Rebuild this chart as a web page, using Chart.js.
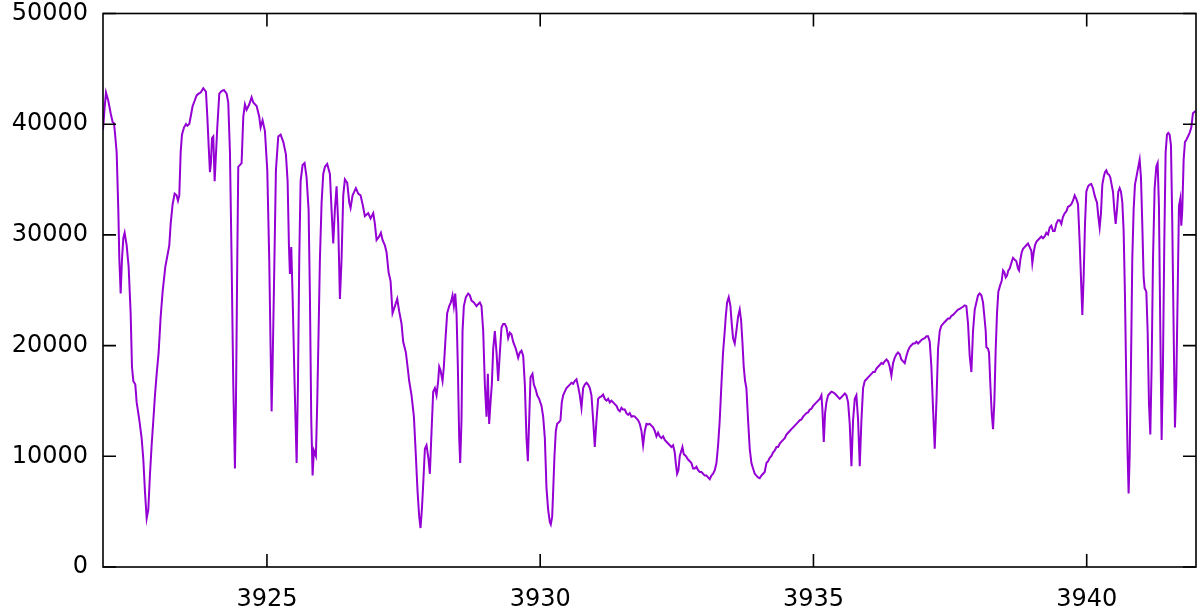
<!DOCTYPE html>
<html>
<head>
<meta charset="utf-8">
<script src="https://cdn.jsdelivr.net/npm/chart.js@4/dist/chart.umd.min.js"></script>
<style>
  body { margin: 0; background: #fff; }
  canvas { display: block; }
</style>
</head>
<body>
<canvas id="spectrum" width="1200" height="613"></canvas>
<script>
// wavelength (x) and counts (y)
const wlA = [3922.000, 3922.030, 3922.055, 3922.097, 3922.140, 3922.177, 3922.201, 3922.219, 3922.250, 3922.280, 3922.299, 3922.323, 3922.347, 3922.372, 3922.396, 3922.433, 3922.469, 3922.506, 3922.530, 3922.555, 3922.591, 3922.616, 3922.665, 3922.707, 3922.738, 3922.768, 3922.799, 3922.829, 3922.860, 3922.890, 3922.921, 3922.951, 3922.982, 3923.018, 3923.055, 3923.091, 3923.140, 3923.177, 3923.213, 3923.238, 3923.274, 3923.311, 3923.347, 3923.372, 3923.396, 3923.421, 3923.445, 3923.482, 3923.518, 3923.543, 3923.579, 3923.604, 3923.640, 3923.677, 3923.713, 3923.750, 3923.787, 3923.835, 3923.884, 3923.909, 3923.933, 3923.957, 3923.975, 3923.994, 3924.018, 3924.043];
const fluxA = [39500, 41500, 42860, 42120, 40990, 40180, 40090, 39220, 37440, 32280, 27770, 24700, 27770, 29700, 30190, 29060, 27120, 22930, 18090, 16800, 16480, 14870, 13260, 11640, 9710, 6800, 4390, 5190, 8420, 11000, 13260, 15510, 17450, 19380, 22610, 24870, 27120, 28090, 29060, 30990, 32770, 33730, 33570, 33090, 33570, 37440, 39060, 39700, 40020, 39860, 40020, 40670, 41640, 42120, 42600, 42760, 42860, 43250, 42930, 40670, 38090, 35670, 36480, 38730, 38890, 34860];

const wlB = [3924.091, 3924.128, 3924.170, 3924.213, 3924.262, 3924.292, 3924.323, 3924.353, 3924.384, 3924.414, 3924.433, 3924.457, 3924.475, 3924.536, 3924.567, 3924.597, 3924.628, 3924.677, 3924.719, 3924.750, 3924.811, 3924.859, 3924.884, 3924.920, 3924.963, 3925.006, 3925.042, 3925.067, 3925.085, 3925.103, 3925.128, 3925.164, 3925.207, 3925.250, 3925.299, 3925.347, 3925.378, 3925.402, 3925.420, 3925.445, 3925.469, 3925.506, 3925.543, 3925.567, 3925.591, 3925.616, 3925.652, 3925.689, 3925.725, 3925.762, 3925.786, 3925.811, 3925.835, 3925.859, 3925.896, 3925.920, 3925.945, 3925.969, 3926.000, 3926.030, 3926.061];
const fluxB = [39700, 42760, 42990, 43090, 42760, 41960, 37440, 27770, 16480, 8900, 14870, 27770, 36150, 36480, 40670, 41800, 41310, 41800, 42440, 41960, 41640, 40670, 39700, 40350, 39380, 35830, 27770, 19710, 14060, 18090, 25190, 35830, 38890, 39060, 38410, 37280, 34860, 29060, 26480, 28900, 24540, 16480, 9390, 16480, 27770, 34860, 36310, 36480, 35190, 32280, 24540, 13260, 8260, 10520, 10030, 14870, 21320, 27770, 32930, 35510, 36150];

const wlC = [3926.103, 3926.152, 3926.182, 3926.213, 3926.243, 3926.274, 3926.304, 3926.335, 3926.365, 3926.396, 3926.426, 3926.469, 3926.506, 3926.530, 3926.567, 3926.628, 3926.670, 3926.713, 3926.750, 3926.792, 3926.853, 3926.896, 3926.945, 3926.975, 3927.006, 3927.054, 3927.085, 3927.115, 3927.158, 3927.189, 3927.225, 3927.262, 3927.298, 3927.341, 3927.384, 3927.420, 3927.463, 3927.493, 3927.542, 3927.573, 3927.603, 3927.646, 3927.689, 3927.725, 3927.756, 3927.786, 3927.810, 3927.835, 3927.859, 3927.890, 3927.920, 3927.957, 3927.981, 3928.012, 3928.042, 3928.073];
const fluxC = [36410, 35510, 32280, 29220, 32280, 34380, 30990, 24220, 27770, 33570, 35020, 34700, 32930, 32440, 33570, 34220, 33730, 33570, 32770, 31700, 31960, 31480, 31960, 30990, 29540, 29860, 30190, 29540, 29060, 28410, 26640, 25830, 22930, 23570, 24220, 23090, 21960, 20350, 19380, 18090, 16800, 15510, 13580, 10030, 6810, 4550, 3520, 5190, 7450, 10680, 11000, 9710, 8420, 12290, 15840, 16160];

const wlD = [3928.103, 3928.133, 3928.152, 3928.176, 3928.213, 3928.237, 3928.268, 3928.298, 3928.335, 3928.365, 3928.396, 3928.420, 3928.445, 3928.469, 3928.493, 3928.518, 3928.536, 3928.560, 3928.579, 3928.603, 3928.640, 3928.682, 3928.713, 3928.743, 3928.786, 3928.835, 3928.865, 3928.896, 3928.926, 3928.957, 3928.987, 3929.018, 3929.042, 3929.066, 3929.091, 3929.115, 3929.140, 3929.170, 3929.201, 3929.231, 3929.262, 3929.292, 3929.323, 3929.353, 3929.384, 3929.414, 3929.445, 3929.475, 3929.505, 3929.554, 3929.597, 3929.627, 3929.658, 3929.689, 3929.719, 3929.749, 3929.774, 3929.798, 3929.823, 3929.859, 3929.884, 3929.920, 3929.945, 3929.981, 3930.024, 3930.054, 3930.085];
const fluxD = [15510, 16800, 18090, 17770, 16800, 18090, 20670, 22930, 23570, 23900, 24540, 23570, 24700, 22930, 18090, 11640, 9390, 13260, 21320, 23570, 24380, 24700, 24540, 24060, 23900, 23570, 23740, 23900, 23570, 21320, 16480, 13580, 17450, 12930, 14870, 16480, 19710, 21320, 19380, 16800, 19380, 21640, 21960, 21960, 21640, 20670, 21160, 21000, 20350, 19710, 18900, 19380, 19540, 19060, 16480, 11640, 9550, 13260, 17130, 17450, 16480, 16000, 15510, 15190, 14550, 13580, 11640];

const wlE = [3930.115, 3930.145, 3930.176, 3930.194, 3930.219, 3930.237, 3930.261, 3930.286, 3930.310, 3930.347, 3930.371, 3930.395, 3930.420, 3930.450, 3930.481, 3930.511, 3930.542, 3930.572, 3930.603, 3930.633, 3930.664, 3930.694, 3930.725, 3930.755, 3930.786, 3930.816, 3930.847, 3930.877, 3930.908, 3930.938, 3930.969, 3930.999, 3931.030, 3931.060, 3931.091, 3931.121, 3931.152, 3931.182, 3931.213, 3931.243, 3931.274, 3931.304, 3931.335, 3931.365, 3931.396, 3931.426, 3931.457, 3931.487, 3931.517, 3931.548, 3931.578, 3931.609, 3931.639, 3931.670, 3931.700, 3931.731, 3931.761, 3931.792, 3931.822, 3931.853, 3931.883, 3931.914, 3931.944, 3931.975, 3932.005, 3932.036, 3932.066, 3932.097];
const fluxE = [7130, 5190, 4060, 3840, 4550, 6810, 10030, 12290, 12930, 13090, 13260, 14870, 15510, 15840, 16160, 16320, 16480, 16640, 16550, 16800, 16960, 16320, 15510, 14380, 16160, 16480, 16640, 16480, 16160, 15510, 13260, 10840, 13260, 15190, 15350, 15420, 15580, 15190, 15030, 15190, 14870, 15030, 14870, 14710, 14550, 14220, 14060, 14380, 14220, 14220, 13900, 13740, 13900, 13580, 13640, 13580, 13420, 13260, 12930, 12290, 11000, 12290, 12930, 12870, 12930, 12770, 12610, 12290];

const wlF = [3932.127, 3932.157, 3932.188, 3932.218, 3932.249, 3932.279, 3932.310, 3932.340, 3932.371, 3932.401, 3932.432, 3932.462, 3932.481, 3932.505, 3932.529, 3932.554, 3932.584, 3932.603, 3932.627, 3932.664, 3932.706, 3932.737, 3932.767, 3932.798, 3932.828, 3932.859, 3932.889, 3932.920, 3932.950, 3932.981, 3933.011, 3933.042, 3933.072, 3933.103, 3933.133, 3933.164, 3933.194, 3933.225, 3933.255, 3933.285, 3933.316, 3933.346, 3933.377, 3933.395, 3933.420, 3933.450, 3933.481, 3933.505, 3933.529, 3933.560, 3933.590, 3933.621, 3933.651, 3933.676, 3933.700, 3933.724, 3933.749, 3933.773, 3933.804, 3933.834, 3933.865, 3933.895, 3933.926, 3933.956, 3933.987, 3934.017, 3934.048, 3934.078, 3934.108];
const fluxF = [11800, 12130, 11800, 11640, 11800, 11480, 11320, 11160, 11000, 10840, 11000, 10350, 9390, 8420, 8740, 10030, 10520, 10840, 10190, 10030, 9710, 9550, 9390, 8900, 8900, 9060, 8740, 8580, 8580, 8420, 8260, 8260, 8100, 7930, 8260, 8420, 8740, 9390, 11000, 13260, 16480, 19380, 21320, 22610, 23900, 24380, 23570, 21960, 20670, 20190, 21320, 22610, 23250, 22290, 20350, 18090, 16800, 16160, 13260, 10680, 9390, 8900, 8420, 8260, 8100, 8030, 8260, 8420, 8580];

const wlG = [3934.140, 3934.170, 3934.201, 3934.231, 3934.262, 3934.292, 3934.323, 3934.353, 3934.384, 3934.414, 3934.445, 3934.475, 3934.506, 3934.536, 3934.567, 3934.597, 3934.628, 3934.658, 3934.689, 3934.719, 3934.750, 3934.780, 3934.811, 3934.841, 3934.872, 3934.902, 3934.933, 3934.963, 3934.994, 3935.024, 3935.055, 3935.085, 3935.116, 3935.146, 3935.164, 3935.189, 3935.213, 3935.237, 3935.268, 3935.298, 3935.329, 3935.359, 3935.390, 3935.420, 3935.451, 3935.481, 3935.512, 3935.542, 3935.573, 3935.603, 3935.634, 3935.664, 3935.695, 3935.725, 3935.756, 3935.786, 3935.817, 3935.847, 3935.878, 3935.908, 3935.939, 3935.969, 3936.000, 3936.030, 3936.061, 3936.091, 3936.122];
const fluxG = [9390, 9550, 9870, 10030, 10350, 10520, 10840, 10840, 11160, 11320, 11480, 11640, 11970, 12130, 12290, 12450, 12610, 12770, 12930, 13090, 13260, 13320, 13580, 13740, 13900, 13970, 14220, 14290, 14550, 14710, 14870, 15030, 15190, 15510, 14220, 11300, 13900, 14870, 15510, 15670, 15840, 15770, 15670, 15510, 15350, 15190, 15350, 15510, 15670, 15510, 14870, 12930, 9100, 13260, 15190, 15510, 13260, 9100, 13260, 16160, 16800, 16960, 17130, 17290, 17450, 17610, 17610];

const wlH = [3936.152, 3936.182, 3936.213, 3936.243, 3936.274, 3936.304, 3936.335, 3936.365, 3936.396, 3936.426, 3936.457, 3936.487, 3936.518, 3936.548, 3936.579, 3936.609, 3936.640, 3936.670, 3936.701, 3936.731, 3936.762, 3936.792, 3936.823, 3936.853, 3936.884, 3936.914, 3936.945, 3936.975, 3937.006, 3937.036, 3937.067, 3937.097, 3937.128, 3937.158, 3937.189, 3937.219, 3937.250, 3937.280, 3937.311, 3937.341, 3937.371, 3937.402, 3937.432, 3937.463, 3937.493, 3937.524, 3937.554, 3937.585, 3937.615, 3937.646, 3937.676, 3937.707, 3937.737, 3937.768, 3937.798, 3937.829, 3937.859, 3937.890, 3937.920, 3937.951, 3937.981, 3938.012, 3938.042, 3938.073, 3938.103, 3938.134];
const fluxH = [17930, 18090, 18250, 18420, 18350, 18580, 18740, 18580, 18090, 17290, 18420, 18900, 19220, 19380, 19220, 18740, 18580, 18420, 19060, 19540, 19870, 20030, 20190, 20190, 20350, 20190, 20350, 20510, 20610, 20670, 20840, 20840, 20350, 18090, 14220, 10680, 14870, 19710, 21320, 21800, 21960, 22130, 22290, 22450, 22450, 22670, 22770, 22930, 23090, 23250, 23320, 23420, 23510, 23640, 23570, 21960, 19060, 17610, 21320, 23250, 23900, 24540, 24700, 24540, 23900, 22290];

const wlI = [3938.152, 3938.164, 3938.194, 3938.213, 3938.237, 3938.262, 3938.286, 3938.310, 3938.335, 3938.359, 3938.383, 3938.420, 3938.444, 3938.469, 3938.493, 3938.518, 3938.542, 3938.566, 3938.591, 3938.621, 3938.652, 3938.682, 3938.713, 3938.743, 3938.762, 3938.786, 3938.810, 3938.835, 3938.865, 3938.896, 3938.926, 3938.957, 3938.987, 3939.005, 3939.030, 3939.054, 3939.079, 3939.109, 3939.140, 3939.170, 3939.201, 3939.231, 3939.262, 3939.292, 3939.323, 3939.353, 3939.383, 3939.414, 3939.444, 3939.475, 3939.505, 3939.536, 3939.566, 3939.597, 3939.627, 3939.658, 3939.688, 3939.719, 3939.749, 3939.780, 3939.810, 3939.841, 3939.871, 3939.902, 3939.920, 3939.944, 3939.969, 3939.993, 3940.024, 3940.054, 3940.084, 3940.115, 3940.146];
const fluxI = [21320, 19870, 19710, 19380, 16480, 13900, 12450, 14870, 19710, 22930, 24870, 25510, 25830, 26800, 26640, 26160, 26320, 26800, 26960, 27450, 27930, 27770, 27610, 26960, 26800, 27770, 28410, 28740, 28900, 29060, 29220, 28900, 28570, 27450, 28410, 29060, 29380, 29540, 29700, 29860, 29700, 29860, 30190, 30030, 30670, 30830, 30350, 30350, 30990, 31320, 31320, 30990, 31640, 31960, 32120, 32540, 32610, 32770, 33090, 33570, 33250, 32770, 29380, 25190, 22770, 26160, 30990, 33900, 34380, 34540, 34600, 34220, 33570];

const wlJ = [3940.164, 3940.188, 3940.213, 3940.237, 3940.261, 3940.286, 3940.310, 3940.334, 3940.359, 3940.383, 3940.408, 3940.432, 3940.456, 3940.481, 3940.505, 3940.530, 3940.554, 3940.578, 3940.603, 3940.627, 3940.652, 3940.676, 3940.700, 3940.725, 3940.749, 3940.767, 3940.786, 3940.810, 3940.834, 3940.859, 3940.883, 3940.908, 3940.938, 3940.969, 3940.993, 3941.017, 3941.042, 3941.060, 3941.091, 3941.115, 3941.139, 3941.164, 3941.188, 3941.213, 3941.243, 3941.273, 3941.298, 3941.322, 3941.347, 3941.371, 3941.395, 3941.420, 3941.444, 3941.469, 3941.493, 3941.517, 3941.542, 3941.566, 3941.591, 3941.615, 3941.639, 3941.664, 3941.688, 3941.712, 3941.731, 3941.749, 3941.774, 3941.798, 3941.822, 3941.853, 3941.883, 3941.914, 3941.944, 3941.981, 3942.000];
const fluxJ = [33250, 32930, 31640, 30670, 31960, 34540, 35190, 35670, 35830, 35510, 35440, 35190, 34540, 33900, 32280, 30990, 32280, 33900, 34220, 33900, 32930, 30350, 24540, 16480, 10030, 6640, 10030, 18090, 27770, 32280, 34540, 35190, 35990, 36800, 35190, 30990, 26160, 25190, 24870, 21320, 14870, 11970, 18090, 27770, 34220, 36150, 36480, 32610, 21320, 11480, 18090, 29380, 37440, 39060, 39220, 39060, 38090, 30990, 21320, 12610, 16480, 24540, 32610, 33250, 30830, 32280, 36800, 38410, 38570, 38890, 39220, 39700, 40990, 41150, 41150];

const xTicks = [3925, 3930, 3935, 3940];
const yTicks = [0, 10000, 20000, 30000, 40000, 50000];

const wlParts = [wlA, wlB, wlC, wlD, wlE, wlF, wlG, wlH, wlI, wlJ];
const fluxParts = [fluxA, fluxB, fluxC, fluxD, fluxE, fluxF, fluxG, fluxH, fluxI, fluxJ];

var points = [];
wlParts.forEach((wl, i) => {
  if (wl.length != fluxParts[i].length) console.error('length mismatch in part', i);
  wl.forEach((x, j) => points.push({ x: x, y: fluxParts[i][j] }));
});

const tickFont = { family: 'DejaVu Sans', size: 24 };

// box round the plot with inward ticks on all four sides
const frameTicks = {
  id: 'frameTicks',
  afterDraw(chart) {
    const ctx = chart.ctx;
    const a = chart.chartArea;
    const xs = chart.scales.x, ys = chart.scales.y;
    const len = 13;
    ctx.save();
    ctx.strokeStyle = '#000';
    ctx.lineWidth = 1.6;
    ctx.strokeRect(a.left, a.top, a.right - a.left, a.bottom - a.top);
    ctx.beginPath();
    xs.ticks.forEach(t => {
      const px = xs.getPixelForValue(t.value);
      ctx.moveTo(px, a.bottom); ctx.lineTo(px, a.bottom - len);
      ctx.moveTo(px, a.top); ctx.lineTo(px, a.top + len);
    });
    ys.ticks.forEach(t => {
      const py = ys.getPixelForValue(t.value);
      ctx.moveTo(a.left, py); ctx.lineTo(a.left + len, py);
      ctx.moveTo(a.right, py); ctx.lineTo(a.right - len, py);
    });
    ctx.stroke();
    ctx.restore();
  }
};

var ctxSpectrum = document.getElementById('spectrum').getContext('2d');
var spectrumChart = new Chart(ctxSpectrum, {
  type: 'line',
  data: {
    datasets: [{
      data: points,
      borderColor: '#9400d3',
      borderWidth: 2,
      pointRadius: 0,
      tension: 0,
      fill: false
    }]
  },
  options: {
    responsive: false,
    animation: false,
    layout: { padding: { top: 13.5, right: 4, left: 0, bottom: 0 } },
    plugins: {
      legend: { display: false },
      tooltip: { enabled: false }
    },
    scales: {
      x: {
        type: 'linear',
        min: 3922,
        max: 3942,
        afterBuildTicks: s => { s.ticks = xTicks.map(v => ({ value: v })); },
        afterFit: s => { s.height = 46; s.paddingLeft = 0; s.paddingRight = 0; },
        grid: { display: false, drawTicks: false },
        border: { display: false },
        ticks: { font: tickFont, color: '#000', padding: 18, maxRotation: 0, autoSkip: false,
                 callback: v => String(v) }
      },
      y: {
        type: 'linear',
        min: 0,
        max: 50000,
        afterBuildTicks: s => { s.ticks = yTicks.map(v => ({ value: v })); },
        afterFit: s => { s.width = 103; s.paddingTop = 0; s.paddingBottom = 0; },
        grid: { display: false, drawTicks: false },
        border: { display: false },
        ticks: { font: tickFont, color: '#000', padding: 15, autoSkip: false,
                 callback: v => String(v) }
      }
    }
  },
  plugins: [frameTicks]
});
</script>
</body>
</html>
